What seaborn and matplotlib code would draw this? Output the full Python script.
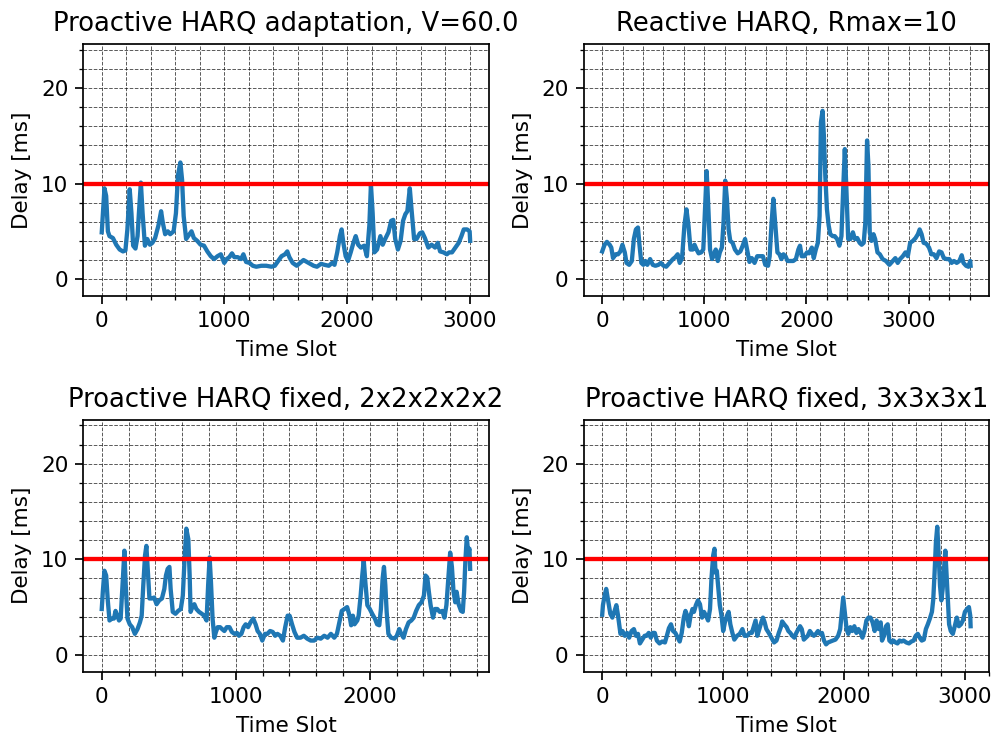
import numpy as np
import pandas as pd
import matplotlib
matplotlib.use("Agg")
import matplotlib.pyplot as plt
import seaborn as sns
from matplotlib.ticker import MultipleLocator

# delay traces (time slot, delay in ms)
adapt_x = [0, 22, 36, 50, 63, 91, 118, 146, 173, 193, 209, 228, 242, 256, 275, 292, 303, 319, 333, 352,
           371, 393, 413, 435, 462, 484, 498, 517, 539, 558, 586, 605, 622, 641, 655, 668, 688, 710, 732, 751,
           779, 806, 834, 861, 889, 916, 944, 971, 999, 1018, 1040, 1062, 1081, 1109, 1136, 1155, 1177, 1205, 1232, 1260,
           1301, 1342, 1384, 1411, 1439, 1466, 1494, 1513, 1530, 1557, 1590, 1618, 1645, 1673, 1700, 1728, 1755, 1788, 1816, 1851,
           1879, 1898, 1920, 1942, 1956, 1970, 1989, 2008, 2030, 2052, 2071, 2091, 2113, 2140, 2162, 2182, 2195, 2209, 2223, 2245,
           2272, 2291, 2311, 2338, 2360, 2377, 2393, 2415, 2437, 2457, 2476, 2492, 2512, 2526, 2547, 2567, 2594, 2613, 2635, 2663,
           2690, 2718, 2740, 2759, 2787, 2814, 2833, 2856, 2883, 2911, 2933, 2952, 2979, 3000, 3004]
adapt_y = [4.9, 9.5, 8.7, 5.0, 4.5, 4.3, 3.6, 3.1, 2.9, 3.0, 5.2, 9.4, 6.9, 3.5, 3.2, 4.5, 6.9, 10.1, 6.9, 3.5,
           4.2, 3.6, 3.8, 4.3, 5.6, 7.1, 5.9, 4.7, 5.0, 4.7, 5.0, 6.9, 10.9, 12.2, 10.4, 6.6, 4.2, 4.6, 5.0, 4.3,
           4.0, 3.6, 3.5, 2.9, 2.4, 2.1, 2.4, 2.6, 1.7, 2.1, 2.3, 2.7, 2.3, 2.3, 2.1, 2.6, 1.8, 1.7, 1.4, 1.3,
           1.4, 1.4, 1.3, 1.4, 1.9, 2.4, 2.6, 2.9, 2.3, 1.7, 1.4, 1.7, 2.0, 1.8, 1.6, 1.4, 1.3, 1.6, 1.5, 1.4,
           1.7, 1.5, 2.8, 4.5, 5.2, 3.8, 2.4, 1.9, 2.8, 3.8, 4.5, 3.6, 3.3, 3.5, 2.4, 5.6, 9.9, 6.9, 2.8, 3.1,
           4.5, 3.6, 4.2, 4.9, 6.1, 6.2, 4.2, 3.1, 4.0, 6.1, 6.8, 7.1, 9.5, 7.3, 4.2, 4.2, 4.8, 4.9, 4.3, 3.3,
           3.6, 3.3, 3.8, 2.9, 2.8, 2.6, 2.8, 2.8, 3.3, 3.8, 4.5, 5.2, 5.2, 5.0, 4.0]

reactive_x = [0, 23, 46, 73, 89, 106, 132, 155, 178, 198, 221, 238, 264, 290, 310, 330, 350, 363, 383, 403,
              422, 442, 469, 495, 521, 551, 574, 601, 627, 660, 693, 716, 739, 759, 782, 805, 825, 845, 865, 888,
              904, 924, 944, 970, 990, 1007, 1023, 1040, 1056, 1076, 1096, 1112, 1132, 1152, 1172, 1188, 1205, 1221, 1238, 1254,
              1277, 1300, 1327, 1353, 1376, 1399, 1419, 1442, 1465, 1492, 1518, 1544, 1574, 1597, 1624, 1640, 1657, 1676, 1696, 1716,
              1736, 1755, 1775, 1795, 1815, 1838, 1871, 1897, 1921, 1937, 1954, 1980, 2006, 2026, 2053, 2072, 2092, 2112, 2129, 2142,
              2158, 2171, 2185, 2201, 2218, 2234, 2257, 2277, 2300, 2323, 2343, 2360, 2376, 2389, 2409, 2432, 2455, 2475, 2498, 2521,
              2541, 2561, 2577, 2594, 2607, 2620, 2637, 2657, 2673, 2696, 2719, 2746, 2779, 2812, 2845, 2871, 2894, 2917, 2944, 2970,
              2993, 3016, 3043, 3069, 3092, 3109, 3128, 3148, 3175, 3201, 3224, 3248, 3274, 3300, 3323, 3346, 3373, 3399, 3422, 3445,
              3472, 3498, 3521, 3538, 3564, 3587, 3604, 3608]
reactive_y = [2.9, 3.6, 3.9, 3.6, 3.3, 2.2, 2.6, 2.6, 2.9, 3.6, 2.8, 1.7, 1.5, 1.9, 4.2, 5.2, 5.4, 3.8, 1.7, 1.5,
              1.9, 1.5, 2.1, 1.5, 1.4, 1.5, 1.7, 1.4, 1.3, 1.7, 2.1, 2.3, 2.6, 1.7, 2.2, 5.6, 7.3, 5.6, 3.1, 3.1,
              3.6, 3.1, 2.7, 2.8, 3.1, 7.3, 11.3, 7.3, 3.1, 2.1, 2.6, 3.1, 1.9, 2.8, 3.3, 5.9, 10.3, 8.4, 5.2, 4.0,
              3.8, 3.1, 2.7, 2.9, 3.5, 4.2, 3.1, 1.8, 2.2, 1.7, 2.4, 2.4, 2.4, 1.5, 1.4, 2.4, 5.6, 8.4, 5.6, 2.8,
              2.6, 2.1, 2.6, 2.4, 1.9, 1.9, 1.9, 2.1, 3.1, 3.5, 2.4, 2.4, 2.8, 2.7, 3.3, 2.2, 3.1, 3.8, 6.6, 16.4,
              17.6, 15.0, 10.8, 7.3, 5.6, 4.7, 4.5, 4.5, 4.2, 3.5, 4.5, 9.4, 13.6, 10.1, 4.2, 4.2, 4.9, 4.2, 4.3, 3.8,
              3.6, 3.8, 5.9, 14.5, 11.9, 4.9, 4.0, 4.7, 4.2, 2.8, 2.6, 2.1, 1.9, 1.5, 1.9, 2.2, 1.7, 2.1, 2.4, 2.8,
              2.4, 3.8, 4.0, 4.3, 4.7, 5.2, 4.7, 3.8, 3.7, 3.3, 2.6, 2.6, 2.2, 2.9, 2.8, 2.2, 2.1, 2.1, 1.7, 1.9,
              1.7, 1.9, 2.5, 1.7, 1.4, 1.3, 1.9, 1.4]

fixed2_x = [0, 8, 20, 33, 45, 58, 76, 91, 103, 116, 129, 141, 151, 159, 169, 179, 192, 209, 227, 247,
            267, 285, 298, 310, 323, 333, 343, 356, 373, 391, 409, 429, 449, 467, 479, 492, 505, 514, 530, 550,
            570, 590, 605, 618, 631, 646, 656, 663, 676, 691, 706, 726, 747, 764, 782, 794, 805, 815, 827, 840,
            852, 865, 883, 898, 915, 933, 953, 971, 991, 1009, 1024, 1042, 1059, 1074, 1092, 1110, 1130, 1148, 1163, 1180,
            1198, 1218, 1236, 1256, 1276, 1294, 1311, 1332, 1352, 1369, 1387, 1402, 1420, 1438, 1458, 1483, 1508, 1533, 1559, 1584,
            1609, 1634, 1660, 1685, 1710, 1735, 1755, 1773, 1791, 1811, 1831, 1849, 1861, 1874, 1886, 1907, 1917, 1932, 1944, 1955,
            1967, 1982, 2000, 2018, 2038, 2055, 2071, 2083, 2096, 2106, 2116, 2126, 2139, 2159, 2184, 2202, 2220, 2235, 2252, 2270,
            2290, 2310, 2328, 2346, 2366, 2386, 2404, 2416, 2429, 2441, 2454, 2472, 2487, 2504, 2522, 2542, 2557, 2572, 2588, 2600,
            2613, 2625, 2638, 2648, 2663, 2681, 2694, 2704, 2714, 2724, 2734, 2744, 2749]
fixed2_y = [4.8, 6.6, 8.8, 8.3, 5.7, 3.6, 3.8, 3.8, 4.6, 4.1, 3.6, 3.8, 6.2, 8.3, 10.9, 7.3, 3.8, 3.2, 2.9, 2.2,
            2.7, 3.4, 4.1, 7.3, 10.4, 11.4, 9.0, 5.9, 5.9, 6.0, 5.3, 5.7, 5.9, 6.9, 8.3, 9.0, 9.2, 6.9, 4.5, 4.3,
            4.6, 4.8, 6.2, 10.0, 13.2, 12.1, 8.3, 4.5, 5.0, 5.3, 4.8, 4.5, 4.3, 4.1, 3.6, 7.3, 10.2, 7.6, 3.8, 1.8,
            2.4, 2.9, 2.9, 2.7, 2.5, 2.9, 2.9, 2.4, 2.2, 2.3, 2.0, 2.2, 2.9, 3.2, 2.9, 3.4, 3.8, 3.2, 2.5, 2.2,
            1.5, 2.2, 2.2, 2.5, 2.4, 2.0, 2.2, 2.0, 1.5, 2.9, 4.1, 4.1, 3.2, 2.4, 1.8, 1.8, 2.0, 1.7, 1.5, 1.5,
            1.8, 1.7, 2.0, 1.8, 2.2, 1.8, 2.2, 3.4, 4.6, 4.8, 5.0, 4.1, 3.1, 4.1, 3.2, 3.6, 4.1, 6.2, 8.3, 9.9,
            7.6, 5.2, 4.8, 4.3, 3.8, 3.2, 3.1, 4.8, 8.0, 9.2, 7.3, 4.5, 2.2, 1.8, 1.7, 2.0, 2.7, 2.2, 1.8, 2.7,
            3.4, 3.6, 3.9, 4.6, 5.2, 5.5, 6.2, 8.3, 8.1, 6.6, 5.2, 3.9, 4.8, 4.8, 4.5, 4.6, 3.9, 5.2, 8.3, 10.7,
            9.2, 6.6, 5.5, 6.6, 5.3, 4.6, 4.5, 6.6, 10.0, 12.3, 10.7, 11.1, 9.0]

fixed3_x = [0, 6, 20, 33, 47, 67, 84, 100, 117, 131, 151, 167, 187, 206, 223, 243, 262, 279, 296, 312,
            332, 351, 368, 385, 402, 418, 435, 452, 474, 496, 519, 535, 552, 569, 586, 605, 625, 641, 658, 675,
            689, 703, 717, 731, 747, 759, 775, 792, 809, 826, 842, 859, 876, 892, 904, 918, 929, 937, 948, 959,
            973, 987, 1001, 1015, 1032, 1046, 1060, 1077, 1093, 1116, 1138, 1160, 1177, 1199, 1219, 1238, 1255, 1269, 1283, 1300,
            1316, 1330, 1344, 1358, 1378, 1400, 1422, 1442, 1461, 1478, 1489, 1506, 1526, 1540, 1556, 1573, 1590, 1606, 1623, 1637,
            1651, 1668, 1685, 1701, 1718, 1735, 1751, 1768, 1785, 1802, 1818, 1835, 1852, 1869, 1888, 1908, 1930, 1952, 1969, 1983,
            1994, 2008, 2022, 2036, 2053, 2069, 2086, 2103, 2120, 2139, 2153, 2170, 2186, 2203, 2220, 2237, 2254, 2270, 2287, 2304,
            2315, 2332, 2348, 2362, 2376, 2393, 2410, 2426, 2443, 2460, 2477, 2493, 2516, 2538, 2558, 2577, 2594, 2611, 2627, 2644,
            2661, 2678, 2694, 2711, 2728, 2739, 2750, 2761, 2772, 2784, 2795, 2806, 2817, 2828, 2839, 2850, 2861, 2870, 2884, 2901,
            2917, 2934, 2951, 2968, 2984, 3001, 3018, 3034, 3045, 3048]
fixed3_y = [4.2, 5.2, 6.2, 6.9, 5.8, 4.3, 3.9, 4.5, 5.2, 4.1, 2.2, 2.5, 2.0, 2.3, 1.8, 2.5, 2.7, 2.0, 2.2, 1.2,
            1.6, 2.0, 2.0, 2.3, 1.8, 2.3, 2.3, 1.5, 1.2, 1.4, 1.3, 2.0, 2.8, 3.2, 2.5, 2.3, 1.8, 1.4, 2.3, 3.9,
            4.6, 4.1, 3.0, 4.1, 4.8, 4.5, 5.2, 5.7, 5.3, 3.9, 4.5, 4.1, 3.6, 4.8, 8.0, 10.4, 11.1, 8.6, 8.8, 7.2,
            5.2, 4.1, 2.5, 3.4, 4.1, 4.5, 3.2, 2.3, 1.6, 2.0, 2.2, 2.7, 2.0, 2.0, 2.3, 2.3, 3.0, 3.6, 2.0, 2.7,
            3.4, 3.9, 3.4, 2.7, 2.3, 1.8, 1.3, 1.5, 2.3, 2.9, 3.5, 3.2, 2.9, 2.5, 2.3, 2.0, 1.8, 2.3, 2.7, 3.0,
            2.7, 1.6, 1.8, 2.0, 2.5, 2.2, 2.0, 2.2, 2.5, 2.2, 2.3, 1.5, 1.1, 1.3, 1.4, 1.5, 1.6, 2.0, 2.7, 4.5,
            6.0, 4.3, 2.7, 2.2, 2.9, 2.5, 3.0, 2.3, 2.7, 2.3, 1.8, 2.5, 3.6, 3.9, 3.9, 3.4, 2.5, 3.6, 2.7, 3.4,
            1.5, 2.0, 3.0, 3.2, 1.5, 1.3, 1.5, 1.3, 1.2, 1.5, 1.4, 1.5, 1.3, 1.2, 1.4, 1.5, 2.0, 2.2, 1.8, 1.5,
            1.6, 2.7, 3.2, 3.8, 4.5, 5.8, 8.6, 11.8, 13.4, 10.4, 7.2, 5.7, 6.9, 9.0, 10.9, 8.3, 5.5, 3.2, 2.5, 2.2,
            3.0, 3.9, 3.0, 3.2, 3.6, 4.5, 4.8, 5.0, 4.1, 3.0]

titles = ["Proactive HARQ adaptation, V=60.0", "Reactive HARQ, Rmax=10",
          "Proactive HARQ fixed, 2x2x2x2x2", "Proactive HARQ fixed, 3x3x3x1"]
series = [(adapt_x, adapt_y), (reactive_x, reactive_y), (fixed2_x, fixed2_y), (fixed3_x, fixed3_y)]
threshold = 10

fig, axes = plt.subplots(2, 2, figsize=(6.4, 4.8), dpi=155)

for ax, title, (xs, ys) in zip(axes.flat, titles, series):
    df = pd.DataFrame({"slot": xs, "delay": ys})
    sns.lineplot(data=df, x="slot", y="delay", ax=ax, color="#1f77b4", lw=2)
    ax.axhline(threshold, color="red", lw=2)
    ax.set_ylim(-1.77, 24.6)
    ax.yaxis.set_major_locator(MultipleLocator(10))
    ax.yaxis.set_minor_locator(MultipleLocator(2))
    ax.xaxis.set_major_locator(MultipleLocator(1000))
    ax.xaxis.set_minor_locator(MultipleLocator(200))
    ax.grid(which="both", color="black", ls="--", lw=0.45, alpha=0.65)
    ax.set_axisbelow(True)
    ax.set_title(title, fontsize=12)
    ax.set_xlabel("Time Slot")
    ax.set_ylabel("Delay [ms]")

fig.subplots_adjust(left=0.084, right=0.997, top=0.941, bottom=0.097, wspace=0.235, hspace=0.49)
plt.savefig("out.png", dpi=155)
